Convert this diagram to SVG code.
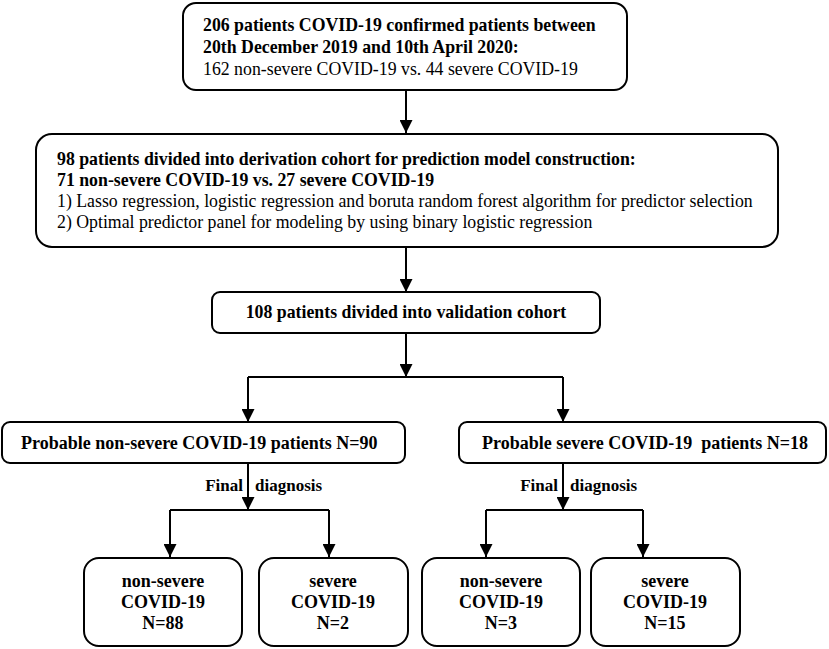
<svg xmlns="http://www.w3.org/2000/svg" width="829" height="649" viewBox="0 0 829 649" font-family="'Liberation Serif', 'Times New Roman', Tinos, 'DejaVu Serif', serif">
<defs>
<marker id="ah" viewBox="0 0 12 12" refX="12" refY="6" markerWidth="13" markerHeight="13" markerUnits="userSpaceOnUse" orient="auto">
<path d="M0,0 L12,6 L0,12 z" fill="#000"/>
</marker>
<style>
.box{fill:#fff;stroke:#000;stroke-width:2}
.t{font-family:'Liberation Serif','Times New Roman',Tinos,'DejaVu Serif',serif;fill:#000}
.b{font-weight:bold}
.c{text-anchor:middle}
.ln{fill:none;stroke:#000;stroke-width:2}
.ar{fill:none;stroke:#000;stroke-width:2;marker-end:url(#ah)}
</style>
</defs>
<rect width="829" height="649" fill="#fff"/>
<g id="connectors">
<path class="ar" d="M406,90 V133"/>
<path class="ar" d="M406,247 V292"/>
<path class="ar" d="M406,333 V377"/>
<path class="ln" d="M248,377 H563"/>
<path class="ar" d="M248,377 V422"/>
<path class="ar" d="M563,377 V422"/>
<path class="ar" d="M248,463 V510"/>
<path class="ar" d="M563,463 V510"/>
<path class="ln" d="M170,510 H329"/>
<path class="ln" d="M486,510 H643"/>
<path class="ar" d="M170,510 V557"/>
<path class="ar" d="M329,510 V557"/>
<path class="ar" d="M486,510 V557"/>
<path class="ar" d="M643,510 V557"/>
<text class="t b" x="243" y="491" font-size="17" text-anchor="end">Final</text>
<text class="t b" x="255" y="491" font-size="17">diagnosis</text>
<text class="t b" x="558" y="491" font-size="17" text-anchor="end">Final</text>
<text class="t b" x="570" y="491" font-size="17">diagnosis</text>
</g>
<g id="n1">
<rect class="box" x="183" y="3" width="444" height="87" rx="13"/>
<text class="t b" x="203" y="31" font-size="17.8">206 patients COVID-19 confirmed patients between</text>
<text class="t b" x="203" y="53" font-size="17.8">20th December 2019 and 10th April 2020:</text>
<text class="t" x="203" y="75" font-size="17.8">162 non-severe COVID-19 vs. 44 severe COVID-19</text>
</g>
<g id="n2">
<rect class="box" x="36" y="134" width="742" height="113" rx="16"/>
<text class="t b" x="57" y="165" font-size="17.8">98 patients divided into derivation cohort for prediction model construction:</text>
<text class="t b" x="57" y="186" font-size="17.8">71 non-severe COVID-19 vs. 27 severe COVID-19</text>
<text class="t" x="57" y="207" font-size="17.8">1) Lasso regression, logistic regression and boruta random forest algorithm for predictor selection</text>
<text class="t" x="57" y="228" font-size="17.8">2) Optimal predictor panel for modeling by using binary logistic regression</text>
</g>
<g id="n3">
<rect class="box" x="212" y="292" width="388" height="41" rx="8"/>
<text class="t b c" x="406" y="318" font-size="17.8">108 patients divided into validation cohort</text>
</g>
<g id="n4">
<rect class="box" x="2" y="422" width="403" height="41" rx="8"/>
<text class="t b" x="21" y="449" font-size="18">Probable non-severe COVID-19 patients N=90</text>
</g>
<g id="n5">
<rect class="box" x="459" y="422" width="367" height="41" rx="8"/>
<text class="t b" x="482" y="449" font-size="18" xml:space="preserve">Probable severe COVID-19  patients N=18</text>
</g>
<g id="n6">
<rect class="box" x="84" y="558" width="158" height="88" rx="15"/>
<text class="t b c" x="163" y="587" font-size="18">non-severe</text>
<text class="t b c" x="163" y="608" font-size="18">COVID-19</text>
<text class="t b c" x="163" y="629" font-size="18">N=88</text>
</g>
<g id="n7">
<rect class="box" x="259" y="558" width="149" height="88" rx="15"/>
<text class="t b c" x="333" y="587" font-size="18">severe</text>
<text class="t b c" x="333" y="608" font-size="18">COVID-19</text>
<text class="t b c" x="333" y="629" font-size="18">N=2</text>
</g>
<g id="n8">
<rect class="box" x="422" y="558" width="158" height="88" rx="15"/>
<text class="t b c" x="501" y="587" font-size="18">non-severe</text>
<text class="t b c" x="501" y="608" font-size="18">COVID-19</text>
<text class="t b c" x="501" y="629" font-size="18">N=3</text>
</g>
<g id="n9">
<rect class="box" x="591" y="558" width="149" height="88" rx="15"/>
<text class="t b c" x="665" y="587" font-size="18">severe</text>
<text class="t b c" x="665" y="608" font-size="18">COVID-19</text>
<text class="t b c" x="665" y="629" font-size="18">N=15</text>
</g>
</svg>
